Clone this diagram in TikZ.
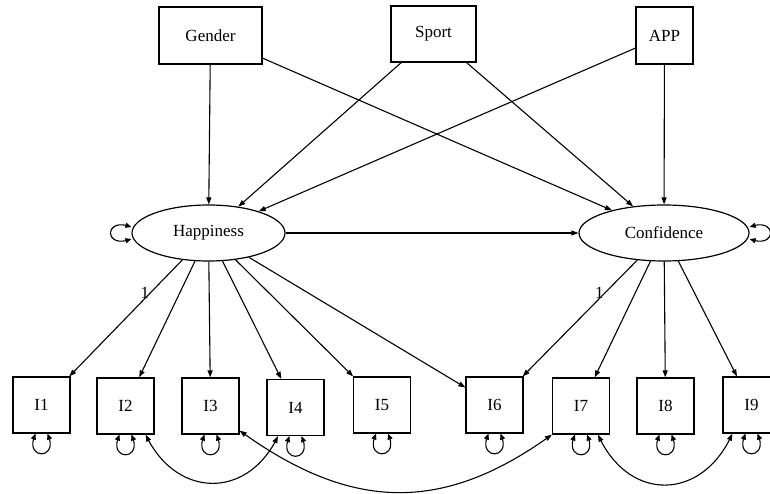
\documentclass[tikz,border=0pt]{standalone}
\usepackage{fontspec}
\setmainfont{Liberation Serif}
\usetikzlibrary{arrows.meta,shapes.geometric,bending}
\begin{document}
\begin{tikzpicture}[x=1pt,y=1pt,
  >={Triangle[length=7pt,width=5pt]},
  every node/.style={font=\fontsize{17}{20}\selectfont},
  obs/.style={draw,line width=1.2pt,rectangle,minimum width=57pt,minimum height=56pt,inner sep=0pt},
  lat/.style={draw,line width=1.2pt,ellipse,inner sep=0pt},
  reg/.style={->,line width=1.1pt},
  cov/.style={{Triangle[length=7pt,width=5pt,flex]}-{Triangle[length=7pt,width=5pt,flex]},line width=1.1pt},
  selfvar/.style={{Triangle[length=6pt,width=5pt,flex]}-{Triangle[length=6pt,width=5pt,flex]},line width=1.1pt},
  lab/.style={inner sep=1pt}]
\clip (0,0) rectangle (770,-494);
% exogenous
\node[obs,minimum width=103pt,minimum height=57pt] (G) at (210.5,-35.5) {Gender};
\node[obs,minimum width=85pt,minimum height=56pt] (S) at (433.5,-34) {Sport};
\node[obs,minimum width=57pt,minimum height=57pt] (A) at (664.5,-35.5) {APP};
% latent
\node[lat,minimum width=153pt,minimum height=56pt] (H) at (208.5,-233) {Happiness};
\node[lat,minimum width=170pt,minimum height=56pt] (C) at (664,-233) {Confidence};
% indicators
\node[obs] (I1) at (41.5,-405) {I1};
\node[obs] (I2) at (125.5,-406) {I2};
\node[obs] (I3) at (210.5,-406) {I3};
\node[obs] (I4) at (295.5,-407.5) {I4};
\node[obs] (I5) at (382,-405) {I5};
\node[obs] (I6) at (494.5,-405) {I6};
\node[obs] (I7) at (581,-406) {I7};
\node[obs] (I8) at (665.5,-406) {I8};
\node[obs] (I9) at (751.5,-405) {I9};
% regressions
\draw[reg] (G) -- (H);
\draw[reg] (G) -- (C);
\draw[reg] (S) -- (H);
\draw[reg] (S) -- (C);
\draw[reg] (A) -- (H);
\draw[reg] (A) -- (C);
\draw[reg] (H) -- (C);
% loadings
\draw[reg] (H) -- node[lab,pos=0.28,left] (l1) {1} (I1);
\draw[reg] (H) -- (I2);
\draw[reg] (H) -- (I3);
\draw[reg] (H) -- (I4);
\draw[reg] (H) -- (I5);
\draw[reg] (H) -- (I6);
\draw[reg] (C) -- node[lab,pos=0.28,left] (l2) {1} (I6);
\draw[reg] (C) -- (I7);
\draw[reg] (C) -- (I8);
\draw[reg] (C) -- (I9);
% residual variances
\foreach \n in {I1,I2,I3,I4,I5,I6,I7,I8,I9}
  \draw[selfvar] ([xshift=-6pt]\n.south) .. controls +(-13,-27) and +(13,-27) .. ([xshift=6pt]\n.south);
\draw[selfvar] ([yshift=6pt]H.west) .. controls +(-28,11) and +(-28,-11) .. ([yshift=-6pt]H.west);
\draw[selfvar] ([yshift=6pt]C.east) .. controls +(28,11) and +(28,-11) .. ([yshift=-6pt]C.east);
% covariances
\draw[cov] ([xshift=-9pt]I2.south east) .. controls +(30,-64) and +(-30,-64) .. ([xshift=-17.5pt]I4.south);
\draw[cov] ([yshift=4pt]I3.south east) .. controls +(110,-80) and +(-110,-80) .. (I7.south west);
\draw[cov] ([xshift=17pt]I7.south) .. controls +(30,-68) and +(-30,-68) .. ([xshift=10pt]I9.south west);
\end{tikzpicture}
\end{document}
